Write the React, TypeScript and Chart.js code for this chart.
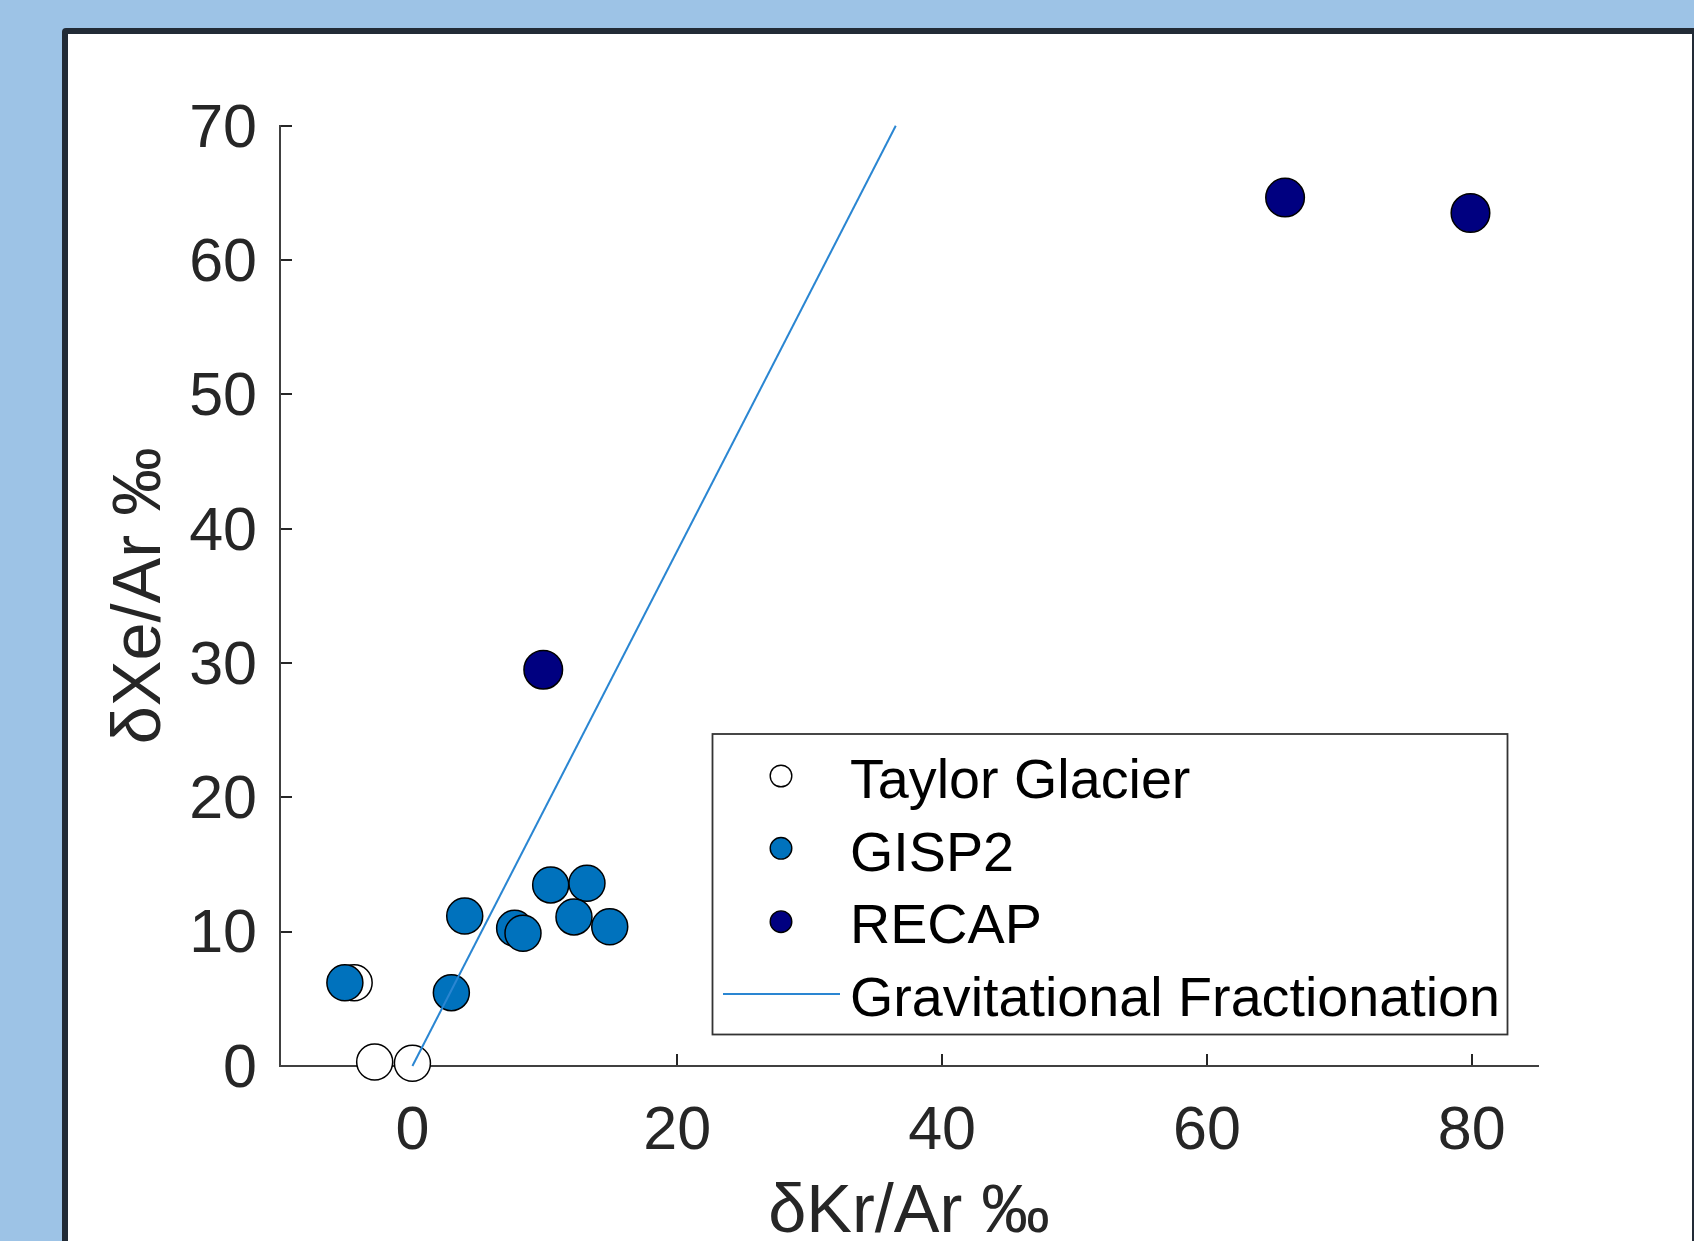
import React, { useEffect, useRef } from "react";
import { Chart, registerables } from "chart.js";

Chart.register(...registerables);

// ---- data ----
const seriesLabels = ["Taylor Glacier", "GISP2", "RECAP", "Gravitational Fractionation"];
const taylorX = [-4.4, -2.85, 0.0];
const taylorY = [6.2, 0.3, 0.2];
const gispX = [-5.1, 2.94, 3.95, 7.72, 8.35, 10.44, 13.18, 12.2, 14.9];
const gispY = [6.2, 5.46, 11.17, 10.25, 9.88, 13.48, 13.6, 11.1, 10.37];
const recapX = [9.88, 65.9, 79.9];
const recapY = [29.5, 64.65, 63.5];
const gravX = [0, 36.5];
const gravY = [0, 70];
const xTicks = [0, 20, 40, 60, 80];
const yTicks = [0, 10, 20, 30, 40, 50, 60, 70];
const xTitle = "δKr/Ar ‰";
const yTitle = "δXe/Ar ‰";

// ---- styles ----
const FONT = "'Liberation Sans', Arial, Helvetica, sans-serif";
const AXIS = "#262626";
const colTaylor = "#ffffff";
const colGisp = "#0072BD";
const colRecap = "#000080";
const colGrav = "#2a86d2";

const toPts = (xs: number[], ys: number[]) => xs.map((x, i) => ({ x, y: ys[i] }));

export default function App() {
  const ref = useRef<HTMLCanvasElement>(null);

  useEffect(() => {
    const canvas = ref.current;
    if (!canvas) return;
    const chart = new Chart(canvas, {
      type: "scatter",
      data: {
        datasets: [
          {
            label: seriesLabels[3],
            data: toPts(gravX, gravY),
            showLine: true,
            borderColor: colGrav,
            borderWidth: 2,
            pointRadius: 0,
            fill: false,
            clip: false,
            order: 0,
          } as any,
          {
            label: seriesLabels[2],
            data: toPts(recapX, recapY),
            backgroundColor: colRecap,
            borderColor: "#000000",
            borderWidth: 1.5,
            pointRadius: 19.3,
            clip: false,
            order: 1,
          },
          {
            label: seriesLabels[1],
            data: toPts(gispX, gispY),
            backgroundColor: colGisp,
            borderColor: "#000000",
            borderWidth: 1.5,
            pointRadius: 18,
            clip: false,
            order: 2,
          },
          {
            label: seriesLabels[0],
            data: toPts(taylorX, taylorY),
            backgroundColor: colTaylor,
            borderColor: "#000000",
            borderWidth: 1.5,
            pointRadius: 18,
            clip: false,
            order: 3,
          },
        ],
      },
      options: {
        responsive: false,
        animation: false,
        devicePixelRatio: 1,
        layout: { padding: { left: 0, top: 125.7, right: 156, bottom: 0 } },
        plugins: { legend: { display: false }, tooltip: { enabled: false } },
        scales: {
          x: {
            type: "linear",
            position: "bottom",
            min: -10,
            max: 85,
            afterBuildTicks: (s: any) => {
              s.ticks = xTicks.map((v) => ({ value: v }));
            },
            afterFit: (s: any) => {
              s.height = 175;
            },
            ticks: {
              font: { family: FONT, size: 61 },
              color: AXIS,
              padding: 42,
              maxRotation: 0,
              autoSkip: false,
            },
            grid: { drawOnChartArea: false, tickLength: -12, color: AXIS, lineWidth: 2 },
            border: { color: "#404040", width: 2 },
            title: {
              display: true,
              text: xTitle,
              color: AXIS,
              font: { family: FONT, size: 68.5, lineHeight: 0.8 },
              padding: { top: 0, bottom: 0 },
            },
          },
          y: {
            type: "linear",
            position: "left",
            min: 0,
            max: 70,
            afterBuildTicks: (s: any) => {
              s.ticks = yTicks.map((v) => ({ value: v }));
            },
            afterFit: (s: any) => {
              s.width = 280;
            },
            ticks: {
              font: { family: FONT, size: 61 },
              color: AXIS,
              padding: 35,
              labelOffset: 4,
              autoSkip: false,
            },
            grid: { drawOnChartArea: false, tickLength: -12, color: AXIS, lineWidth: 2 },
            border: { color: "#404040", width: 2 },
            title: {
              display: true,
              text: yTitle,
              color: AXIS,
              font: { family: FONT, size: 68.5, lineHeight: 0.8 },
              padding: { top: 114, bottom: 0 },
            },
          },
        },
      } as any,
    });
    return () => chart.destroy();
  }, []);

  const legendFills = [colTaylor, colGisp, colRecap];
  const rowY = [798.3, 870.5, 943.3, 1016.3];
  const markerY = [776, 848.3, 921.7];

  return (
    <div
      style={{
        position: "fixed",
        left: 0,
        top: 0,
        width: 1694,
        height: 1241,
        background: "#9DC3E6",
        overflow: "hidden",
      }}
    >
      <div
        style={{
          position: "absolute",
          left: 62,
          top: 28,
          width: 1636,
          height: 1300,
          background: "#ffffff",
          border: "6px solid #222B36",
          borderRadius: 4,
          boxSizing: "border-box",
        }}
      />
      <canvas
        ref={ref}
        width={1694}
        height={1241}
        style={{ position: "absolute", left: 0, top: 0, width: 1694, height: 1241 }}
      />
      <svg
        width={1694}
        height={1241}
        style={{ position: "absolute", left: 0, top: 0 }}
      >
        <rect x={712.5} y={734} width={795} height={300.5} fill="#ffffff" stroke="#333333" strokeWidth={1.8} />
        {legendFills.map((c, i) => (
          <circle key={i} cx={781} cy={markerY[i]} r={10.8} fill={c} stroke="#000000" strokeWidth={1.4} />
        ))}
        <line x1={723} y1={994} x2={840} y2={994} stroke={colGrav} strokeWidth={2} />
        {seriesLabels.map((t, i) => (
          <text key={t} x={850} y={rowY[i]} fontFamily={FONT} fontSize={55.7} fill="#000000">
            {t}
          </text>
        ))}
      </svg>
    </div>
  );
}
